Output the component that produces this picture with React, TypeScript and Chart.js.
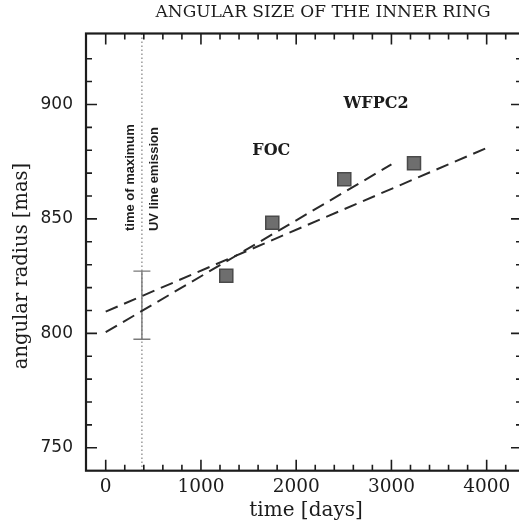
import { useEffect, useRef } from "react";
import { Chart, registerables } from "chart.js";

Chart.register(...registerables);

// ---- data ----
const obsDays = [1266, 1749, 2505, 3237];
const obsRadius = [825.2, 848.3, 867.3, 874.3];

const focFitDays = [0, 3000];
const focFitRadius = [800.5, 873.8];

const allFitDays = [0, 4000];
const allFitRadius = [809.5, 881];

const uvMaxDay = 380;
const uvRadiusLow = 797.4;
const uvRadiusHigh = 827.2;

const xMajorTicks = [0, 1000, 2000, 3000, 4000];
const xMinorTicks = [
  200, 400, 600, 800, 1200, 1400, 1600, 1800, 2200, 2400, 2600, 2800, 3200,
  3400, 3600, 3800, 4200,
];
const yMajorTicks = [750, 800, 850, 900];
const yMinorTicks = [
  760, 770, 780, 790, 810, 820, 830, 840, 860, 870, 880, 890, 910, 920,
];

const X_MIN = -207;
const X_MAX = 4371;
const Y_MIN = 740;
const Y_MAX = 931;

const chartTitle = "ANGULAR SIZE OF THE INNER RING";
const xTitle = "time [days]";
const yTitle = "angular radius [mas]";
const instrumentLabels = [
  { text: "FOC", day: 1739, radius: 879.8 },
  { text: "WFPC2", day: 2838, radius: 900.1 },
];
const uvNoteLines = [
  { text: "time of maximum", day: 255, radius: 844.7 },
  { text: "UV line emission", day: 507, radius: 844.7 },
];

const INK = "#1c1c1c";

const decorPlugin = {
  id: "decor",
  beforeDatasetsDraw(chart: any) {
    const { ctx, scales } = chart;
    const xs = scales.x;
    const ys = scales.y;
    const { top, bottom } = chart.chartArea;
    const px = xs.getPixelForValue(uvMaxDay);
    ctx.save();
    ctx.strokeStyle = "#8a8a8a";
    ctx.lineWidth = 1.3;
    ctx.setLineDash([1.4, 2.6]);
    ctx.beginPath();
    ctx.moveTo(px, top);
    ctx.lineTo(px, bottom);
    ctx.stroke();
    ctx.setLineDash([]);
    const yLo = ys.getPixelForValue(uvRadiusLow);
    const yHi = ys.getPixelForValue(uvRadiusHigh);
    ctx.strokeStyle = "#7a7a7a";
    ctx.lineWidth = 1.4;
    ctx.beginPath();
    ctx.moveTo(px, yLo);
    ctx.lineTo(px, yHi);
    ctx.moveTo(px - 8.5, yLo);
    ctx.lineTo(px + 8.5, yLo);
    ctx.moveTo(px - 8.5, yHi);
    ctx.lineTo(px + 8.5, yHi);
    ctx.stroke();
    ctx.restore();
  },
  afterDatasetsDraw(chart: any) {
    const { ctx, scales } = chart;
    const xs = scales.x;
    const ys = scales.y;
    const { left, right, top, bottom } = chart.chartArea;
    ctx.save();
    ctx.strokeStyle = INK;
    ctx.lineWidth = 2.2;
    ctx.strokeRect(left, top, right - left, bottom - top);
    ctx.lineWidth = 1.6;
    ctx.beginPath();
    const tickX = (v: number, len: number) => {
      const p = xs.getPixelForValue(v);
      ctx.moveTo(p, bottom);
      ctx.lineTo(p, bottom - len);
      ctx.moveTo(p, top);
      ctx.lineTo(p, top + len);
    };
    const tickY = (v: number, len: number) => {
      const p = ys.getPixelForValue(v);
      ctx.moveTo(left, p);
      ctx.lineTo(left + len, p);
      ctx.moveTo(right, p);
      ctx.lineTo(right - len, p);
    };
    xMajorTicks.forEach((v) => tickX(v, 11));
    xMinorTicks.forEach((v) => tickX(v, 6));
    yMajorTicks.forEach((v) => tickY(v, 11));
    yMinorTicks.forEach((v) => tickY(v, 6));
    ctx.stroke();
    ctx.restore();
  },
  afterDraw(chart: any) {
    const { ctx, scales } = chart;
    const xs = scales.x;
    const ys = scales.y;
    const { top, bottom } = chart.chartArea;
    ctx.save();
    ctx.fillStyle = INK;
    ctx.textBaseline = "middle";
    ctx.textAlign = "center";
    ctx.font = "17px 'DejaVu Serif'";
    ctx.fillText(chartTitle, 323, top - 21);
    ctx.font = "20px 'DejaVu Serif'";
    ctx.fillText(xTitle, 306, bottom + 40);
    ctx.save();
    ctx.translate(22, 266);
    ctx.rotate(-Math.PI / 2);
    ctx.font = "19.5px 'DejaVu Serif'";
    ctx.fillText(yTitle, 0, 0);
    ctx.restore();
    ctx.font = "bold 16px 'DejaVu Serif'";
    instrumentLabels.forEach((l) => {
      ctx.fillText(l.text, xs.getPixelForValue(l.day), ys.getPixelForValue(l.radius));
    });
    ctx.font = "bold 13px 'Liberation Sans'";
    ctx.textAlign = "left";
    uvNoteLines.forEach((l) => {
      ctx.save();
      ctx.translate(xs.getPixelForValue(l.day), ys.getPixelForValue(l.radius));
      ctx.rotate(-Math.PI / 2);
      ctx.fillText(l.text, 0, 0);
      ctx.restore();
    });
    ctx.restore();
  },
};

export default function App() {
  const ref = useRef<HTMLCanvasElement | null>(null);
  useEffect(() => {
    document.documentElement.style.overflow = "hidden";
    document.body.style.margin = "0";
    document.body.style.overflow = "hidden";
    const canvas = ref.current;
    if (!canvas) return;
    const chart = new Chart(canvas, {
      type: "scatter",
      data: {
        datasets: [
          {
            label: "observations",
            data: obsDays.map((d, i) => ({ x: d, y: obsRadius[i] })),
            pointStyle: "rect",
            pointRadius: 9.2,
            backgroundColor: "#6e6e6e",
            borderColor: "#4a4a4a",
            borderWidth: 1.5,
          },
          {
            label: "FOC fit",
            data: focFitDays.map((d, i) => ({ x: d, y: focFitRadius[i] })),
            showLine: true,
            borderColor: "#2a2a2a",
            borderWidth: 2,
            borderDash: [13, 7],
            pointRadius: 0,
            fill: false,
          },
          {
            label: "all fit",
            data: allFitDays.map((d, i) => ({ x: d, y: allFitRadius[i] })),
            showLine: true,
            borderColor: "#2a2a2a",
            borderWidth: 2,
            borderDash: [13, 7],
            pointRadius: 0,
            fill: false,
          },
        ],
      },
      options: {
        animation: false,
        responsive: false,
        events: [],
        layout: { autoPadding: false, padding: { top: 33.5, right: 2, left: 0, bottom: 0 } },
        plugins: {
          legend: { display: false },
          tooltip: { enabled: false },
          title: { display: false },
        },
        scales: {
          x: {
            type: "linear",
            min: X_MIN,
            max: X_MAX,
            afterBuildTicks: (s: any) => {
              s.ticks = xMajorTicks.map((v) => ({ value: v }));
            },
            afterFit: (s: any) => {
              s.height = 55.3;
              s.paddingLeft = 0;
              s.paddingRight = 0;
            },
            ticks: {
              autoSkip: false,
              maxRotation: 0,
              padding: 5,
              color: INK,
              font: { family: "DejaVu Serif", size: 18.5 },
              callback: (v: any) => String(v),
            },
            grid: { display: false, drawTicks: false },
            border: { display: false },
          },
          y: {
            type: "linear",
            min: Y_MIN,
            max: Y_MAX,
            afterBuildTicks: (s: any) => {
              s.ticks = yMajorTicks.map((v) => ({ value: v }));
            },
            afterFit: (s: any) => {
              s.width = 86;
              s.paddingTop = 0;
              s.paddingBottom = 0;
            },
            ticks: {
              autoSkip: false,
              padding: 13,
              color: INK,
              font: { family: "DejaVu Sans", size: 17 },
              callback: (v: any) => String(v),
            },
            grid: { display: false, drawTicks: false },
            border: { display: false },
          },
        },
      },
      plugins: [decorPlugin],
    });
    return () => chart.destroy();
  }, []);
  return (
    <div style={{ width: 524, height: 526 }}>
      <canvas ref={ref} width={524} height={526} style={{ display: "block", width: 524, height: 526 }} />
    </div>
  );
}
